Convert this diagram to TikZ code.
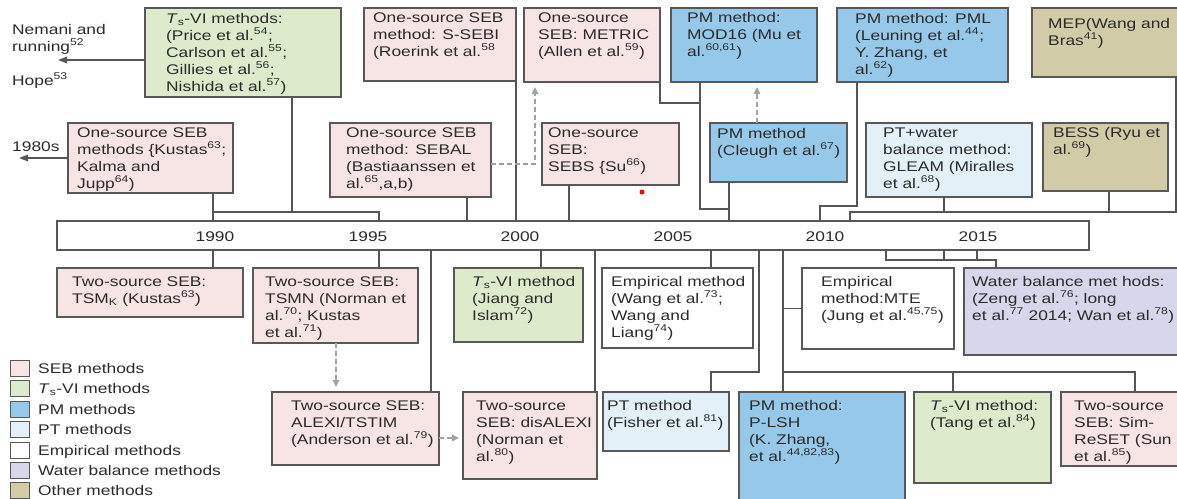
\documentclass[tikz,border=0pt]{standalone}
\usepackage{fontspec}
\setmainfont{Liberation Sans}[FakeStretch=1.24]
\usetikzlibrary{arrows.meta}

\definecolor{sebc}{HTML}{F7E4E4}
\definecolor{tsvic}{HTML}{DDEACB}
\definecolor{pmc}{HTML}{96C8E9}
\definecolor{ptc}{HTML}{E3F0F8}
\definecolor{wbc}{HTML}{D8D6EA}
\definecolor{othc}{HTML}{D2CBA8}
\definecolor{boxc}{HTML}{585858}
\definecolor{linec}{HTML}{555555}
\definecolor{dashc}{HTML}{9CA3A0}
\definecolor{txtc}{HTML}{2B2B2B}

% strut that fixes the height of the first text line in a box
\newcommand{\lnstrut}{\rule{0pt}{13pt}}
\newcommand{\Ts}{\textit{T}\textsubscript{s}}

% method box: name, fill, corner, width, height, text dx, text dy, text
\newcommand{\methodbox}[8]{%
  \node[mbox, fill=#2, anchor=north west, minimum width=#4pt, minimum height=#5pt] (#1) at (#3) {};
  \node[mtext, anchor=north west] (#1-t) at ([xshift=#6pt, yshift=-#7pt]#1.north west) {\lnstrut #8};
}

\tikzset{
  mbox/.style={rectangle, draw=boxc, line width=1.4pt, outer sep=0pt, inner sep=0pt},
  mtext/.style={inner sep=0pt, align=left, text=txtc, font=\fontsize{14pt}{17pt}\selectfont},
  ftext/.style={inner sep=0pt, text=txtc, font=\fontsize{14pt}{17pt}\selectfont},
  conn/.style={draw=linec, line width=1.4pt},
  dasharrow/.style={draw=dashc, line width=1.4pt, dash pattern=on 5pt off 3pt,
    -{Triangle[length=7pt,width=6.5pt]}, shorten >=5pt},
  leftarrow/.style={draw=linec, line width=1.4pt, -{Triangle[length=9pt,width=6.5pt]}},
  legbox/.style={rectangle, draw=boxc, line width=1pt, outer sep=0pt, inner sep=0pt,
    minimum width=19pt, minimum height=16pt, anchor=west},
}

\begin{document}
\begin{tikzpicture}[x=1pt, y=-1pt]
\useasboundingbox (0,0) rectangle (1177,498);

% ---------- upper boxes ----------
\methodbox{tsviA}{tsvic}{145,8}{196}{89}{21}{2}{\Ts-VI methods:\\(Price et al.\textsuperscript{54};\\Carlson et al.\textsuperscript{55};\\Gillies et al.\textsuperscript{56};\\Nishida et al.\textsuperscript{57})}
\methodbox{ssebi}{sebc}{364,8}{152}{73}{9}{1}{One-source SEB\\method: S-SEBI\\(Roerink et al.\textsuperscript{58}}
\methodbox{metric}{sebc}{524,8}{136}{74}{14}{1}{One-source\\SEB: METRIC\\(Allen et al.\textsuperscript{59})}
\methodbox{mod16}{pmc}{671,8}{146}{74}{16}{1}{PM method:\\MOD16 (Mu et\\al.\textsuperscript{60,61})}
\methodbox{pml}{pmc}{837,8}{171}{74}{18}{2}{PM method: PML\\(Leuning et al.\textsuperscript{44};\\Y. Zhang, et\\al.\textsuperscript{62})}
\methodbox{mep}{othc}{1032,8}{150}{69}{16}{7}{MEP(Wang and\\Bras\textsuperscript{41})}

\methodbox{seb1}{sebc}{68,123}{165}{70}{9}{1}{One-source SEB\\methods \{Kustas\textsuperscript{63};\\Kalma and\\Jupp\textsuperscript{64})}
\methodbox{sebal}{sebc}{330,123}{161}{74}{16}{1}{One-source SEB\\method: SEBAL\\(Bastiaanssen et\\al.\textsuperscript{65},a,b)}
\methodbox{sebs}{sebc}{542,123}{137}{62}{6}{1}{One-source\\SEB:\\SEBS \{Su\textsuperscript{66})}
\methodbox{cleugh}{pmc}{710,123}{137}{59}{7}{2}{PM method\\(Cleugh et al.\textsuperscript{67})}
\methodbox{gleam}{ptc}{866,123}{166}{74}{17}{1}{PT+water\\balance method:\\GLEAM (Miralles\\et al.\textsuperscript{68})}
\methodbox{bess}{othc}{1043,123}{125}{68}{10}{1}{BESS (Ryu et\\al.\textsuperscript{69})}

% ---------- lower boxes ----------
\methodbox{tsmk}{sebc}{57,268}{186}{49}{15}{5}{Two-source SEB:\\TSM\textsubscript{K} (Kustas\textsuperscript{63})}
\methodbox{tsmn}{sebc}{253,268}{165}{75}{12}{5}{Two-source SEB:\\TSMN (Norman et\\al.\textsuperscript{70}; Kustas\\et al.\textsuperscript{71})}
\methodbox{jiang}{tsvic}{454,268}{129}{74}{18}{5}{\Ts-VI method\\(Jiang and\\Islam\textsuperscript{72})}
\methodbox{emp1}{white}{602,268}{151}{80}{9}{5}{Empirical method\\(Wang et al.\textsuperscript{73};\\Wang and\\Liang\textsuperscript{74})}
\methodbox{mte}{white}{802,268}{152}{81}{19}{5}{Empirical\\method:MTE\\(Jung et al.\textsuperscript{45,75})}
\methodbox{water}{wbc}{964,268}{220}{87}{8}{5}{Water balance met hods:\\(Zeng et al.\textsuperscript{76}; long\\et al.\textsuperscript{77} 2014; Wan et al.\textsuperscript{78})}

\methodbox{alexi}{sebc}{272,392}{167}{73}{19}{5}{Two-source SEB:\\ALEXI/TSTIM\\(Anderson et al.\textsuperscript{79})}
\methodbox{disalexi}{sebc}{463,392}{134}{87}{13}{5}{Two-source\\SEB: disALEXI\\(Norman et\\al.\textsuperscript{80})}
\methodbox{ptm}{ptc}{603,392}{126}{59}{4}{5}{PT method\\(Fisher et al.\textsuperscript{81})}
\methodbox{plsh}{pmc}{739,392}{166}{115}{10}{5}{PM method:\\P-LSH\\(K. Zhang,\\et al.\textsuperscript{44,82,83})}
\methodbox{tang}{tsvic}{914,392}{137}{91}{16}{5}{\Ts-VI method:\\(Tang et al.\textsuperscript{84})}
\methodbox{sim}{sebc}{1061,392}{125}{74}{13}{5}{Two-source\\SEB: Sim-\\ReSET (Sun\\et al.\textsuperscript{85})}

% ---------- time axis ----------
\node[mbox, fill=white, anchor=north west, minimum width=1032pt, minimum height=29pt] (tl) at (57,221) {};
\node[ftext, anchor=base] (y1990) at (215,241) {1990};
\node[ftext, anchor=base] (y1995) at (368,241) {1995};
\node[ftext, anchor=base] (y2000) at (520,241) {2000};
\node[ftext, anchor=base] (y2005) at (673,241) {2005};
\node[ftext, anchor=base] (y2010) at (825,241) {2010};
\node[ftext, anchor=base] (y2015) at (978,241) {2015};

% ---------- earlier work, left margin ----------
\node[ftext, anchor=base west] (nemani) at (12,34) {Nemani and};
\node[ftext, anchor=base west] (running) at (12,51) {running\textsuperscript{52}};
\node[ftext, anchor=base west] (hope) at (12,85) {Hope\textsuperscript{53}};
\node[ftext, anchor=base west] (y1980) at (12,151) {1980s};
\coordinate (earlyA) at (58,60);
\coordinate (earlyB) at (19,158);
\draw[leftarrow] (tsviA.west |- 0,60) -- (earlyA);
\draw[leftarrow] (seb1.west |- 0,158) -- (earlyB);

% ---------- connectors above the axis ----------
\coordinate (j1) at (213,212);
\coordinate (j2) at (729,209);
\coordinate (j3) at (700,103);
\coordinate (j4) at (820,206);
\coordinate (j5) at (850,212);
\draw[conn] (seb1.south -| 213,0) -- (tl.north -| 213,0);
\draw[conn] (tsviA.south -| 292,0) |- (j1);
\draw[conn] (j1) -| (tl.north -| 379,0);
\draw[conn] (sebal.south -| 467,0) -- (tl.north -| 467,0);
\draw[conn] (ssebi.south -| 516,0) -- (tl.north -| 516,0);
\draw[conn] (sebs.south -| 569,0) -- (tl.north -| 569,0);
\draw[conn] (metric.south -| 660,0) |- (j3);
\draw[conn] (mod16.south -| 700,0) |- (j2) -- (tl.north -| j2);
\draw[conn] (cleugh.south -| 729,0) -- (j2);
\draw[conn] (pml.south -| 857,0) |- (j4) -- (tl.north -| j4);
\draw[conn] (mep.south -| 1176,0) |- (j5) -- (tl.north -| j5);
\draw[conn] (gleam.south -| 944,0) -- (j5 -| 944,0);
\draw[conn] (bess.south -| 1109,0) -- (j5 -| 1109,0);

% ---------- connectors below the axis ----------
\coordinate (j6) at (711,372);
\coordinate (j7) at (783,372);
\coordinate (j8) at (886,260);
\draw[conn] (tl.south -| 213,0) -- (tsmk.north -| 213,0);
\draw[conn] (tl.south -| 379,0) -- (tsmn.north -| 379,0);
\draw[conn] (tl.south -| 431,0) -- (alexi.north -| 431,0);
\draw[conn] (tl.south -| 541,0) -- (jiang.north -| 541,0);
\draw[conn] (tl.south -| 595,0) -- (disalexi.north -| 595,0);
\draw[conn] (tl.south -| 711,0) -- (emp1.north -| 711,0);
\draw[conn] (tl.south -| 759,0) |- (j6) -- (ptm.north -| j6);
\draw[conn] (tl.south -| 783,0) -- (plsh.north -| 783,0);
\draw[conn] (mte.west -| 783,0) -- (mte.west);
\draw[conn] (j7) -| (sim.north -| 1135,0);
\draw[conn] (j7 -| 953,0) -- (tang.north -| 953,0);
\draw[conn] (tl.south -| j8) -- (j8) -| (water.north -| 996,0);
\draw[conn] (tl.south -| 944,0) -- (j8 -| 944,0);
\draw[conn] (tl.south -| 977,0) -- (j8 -| 977,0);

% ---------- derived methods (dashed) ----------
\draw[dasharrow] (sebal.east |- 0,164) -| (metric.south -| 535,0);
\draw[dasharrow] (cleugh.north -| 757,0) -- (mod16.south -| 757,0);
\draw[dasharrow] (tsmn.south -| 336,0) -- (alexi.north -| 336,0);
\draw[dasharrow, shorten >=4pt] (alexi.east |- 0,438) -- (disalexi.west |- 0,438);

\node[circle, fill=red, inner sep=0pt, minimum size=5pt] (dot) at (642,192) {};

% ---------- legend ----------
\node[legbox, fill=sebc] (leg1) at (10,368) {};
\node[legbox, fill=tsvic] (leg2) at (10,388.5) {};
\node[legbox, fill=pmc] (leg3) at (10,409) {};
\node[legbox, fill=ptc] (leg4) at (10,429.5) {};
\node[legbox, fill=white] (leg5) at (10,450) {};
\node[legbox, fill=wbc] (leg6) at (10,470) {};
\node[legbox, fill=othc] (leg7) at (10,490) {};
\node[ftext, anchor=base west] (leg1-t) at (38,373) {SEB methods};
\node[ftext, anchor=base west] (leg2-t) at (38,393.5) {\Ts-VI methods};
\node[ftext, anchor=base west] (leg3-t) at (38,414) {PM methods};
\node[ftext, anchor=base west] (leg4-t) at (38,434.5) {PT methods};
\node[ftext, anchor=base west] (leg5-t) at (38,455) {Empirical methods};
\node[ftext, anchor=base west] (leg6-t) at (38,475) {Water balance methods};
\node[ftext, anchor=base west] (leg7-t) at (38,495) {Other methods};
\end{tikzpicture}
\end{document}
